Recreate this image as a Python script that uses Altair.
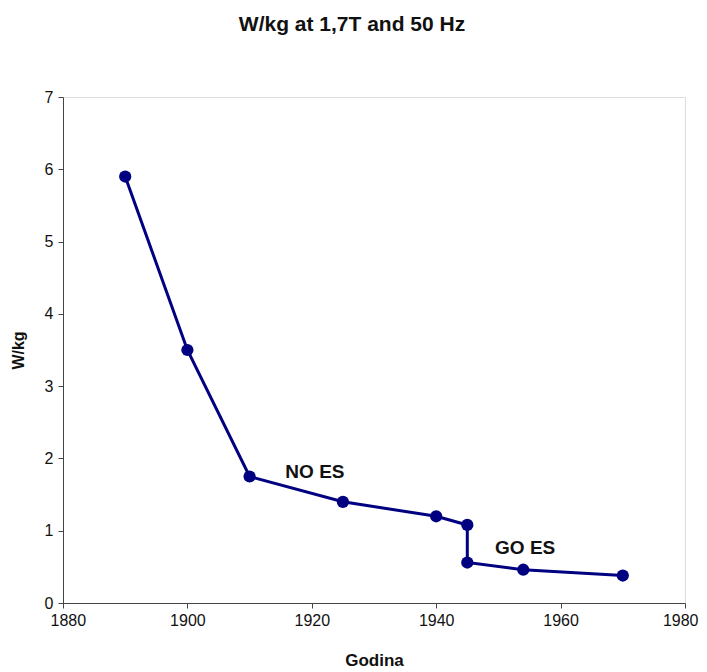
import altair as alt
import pandas as pd

years = [1890, 1900, 1910, 1925, 1940, 1945, 1945, 1954, 1970]
wkg = [5.9, 3.5, 1.75, 1.4, 1.2, 1.08, 0.56, 0.46, 0.38]
order = list(range(len(years)))

label_text = ["NO ES", "GO ES"]
label_x = [1920.5, 1954.3]
label_y = [1.81, 0.76]

df = pd.DataFrame({"year": years, "wkg": wkg, "idx": order})
lab = pd.DataFrame({"x": label_x, "y": label_y, "t": label_text})

FONT = "Liberation Sans"
NAVY = "#000080"

xs = alt.Scale(domain=[1880, 1980], nice=False, zero=False)
ys = alt.Scale(domain=[0, 7], nice=False)

x_axis = alt.Axis(values=[1880, 1900, 1920, 1940, 1960, 1980], format="d", title="Godina",
                  grid=False, domainColor="#444", tickColor="#444", tickSize=5,
                  labelFlush=True, labelFlushOffset=13,
                  labelFont=FONT, labelFontSize=16, labelColor="#111", labelPadding=4,
                  titleFont=FONT, titleFontSize=17, titleFontWeight="bold", titleColor="#111",
                  titlePadding=24)
y_axis = alt.Axis(values=list(range(8)), format="d", title="W/kg", grid=False,
                  domainColor="#444", tickColor="#444", tickSize=5,
                  labelFlush=False,
                  labelFont=FONT, labelFontSize=16, labelColor="#111", labelPadding=5,
                  titleFont=FONT, titleFontSize=16, titleFontWeight="bold", titleColor="#111",
                  titlePadding=18)

base = alt.Chart(df)
line = base.mark_line(color=NAVY, strokeWidth=3).encode(
    x=alt.X("year:Q", scale=xs, axis=x_axis),
    y=alt.Y("wkg:Q", scale=ys, axis=y_axis),
    order="idx:Q",
)
pts = base.mark_circle(color=NAVY, size=150, opacity=1).encode(
    x=alt.X("year:Q", scale=xs),
    y=alt.Y("wkg:Q", scale=ys),
)
txt = alt.Chart(lab).mark_text(font=FONT, fontSize=19, fontWeight="bold", color="#111").encode(
    x=alt.X("x:Q", scale=xs),
    y=alt.Y("y:Q", scale=ys),
    text="t:N",
)

chart = (line + pts + txt).properties(
    width=622,
    height=506,
    title=alt.TitleParams("W/kg at 1,7T and 50 Hz", font=FONT, fontSize=21, fontWeight="bold",
                          color="#111", anchor="middle", offset=54, dx=-22),
    autosize=alt.AutoSizeParams(type="none"),
    padding={"left": 55, "top": 89, "right": 14, "bottom": 68},
).configure_view(stroke="#aaaaaa", strokeWidth=1.5).configure(background="white")

chart.save("out.html", embed_options={"renderer": "svg", "actions": False})
